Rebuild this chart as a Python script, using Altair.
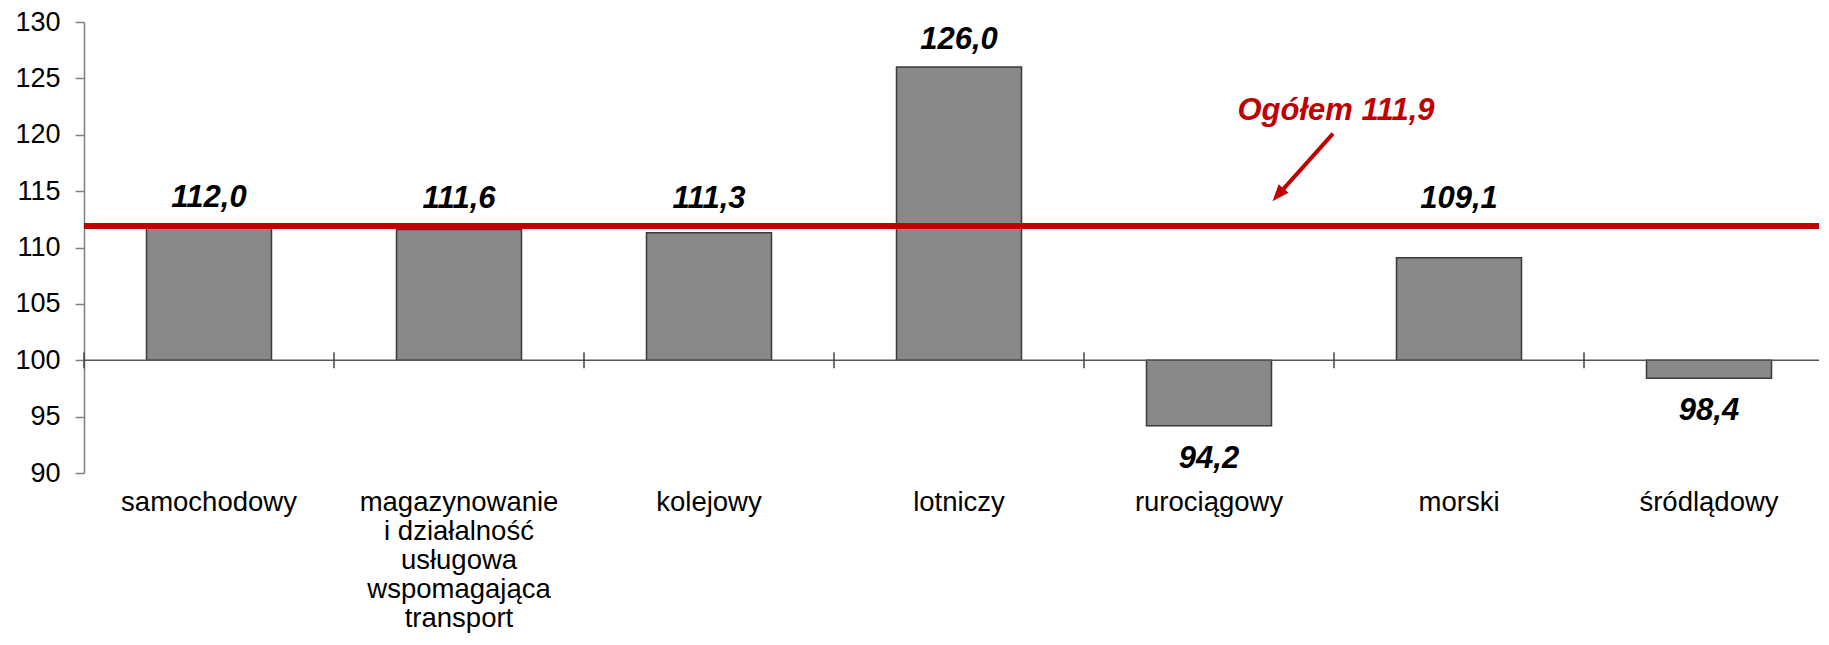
import altair as alt
import pandas as pd

# ---- data ----
categories = [
    "samochodowy",
    "magazynowanie\ni działalność\nusługowa\nwspomagająca\ntransport",
    "kolejowy",
    "lotniczy",
    "rurociągowy",
    "morski",
    "śródlądowy",
]
values = [112.0, 111.6, 111.3, 126.0, 94.2, 109.1, 98.4]
total = 111.9
total_label = "Ogółem 111,9"
base_value = 100
y_ticks = [90, 95, 100, 105, 110, 115, 120, 125, 130]

df = pd.DataFrame({"cat": categories, "value": values})
one = pd.DataFrame({"t": [total]})

FONT = "Liberation Sans"
W, H = 1750, 451
STEP = W / len(categories)
RED = "#C00000"

xscale = alt.Scale(domain=categories, paddingInner=0.5, paddingOuter=0.25)
yscale = alt.Scale(domain=[90, 130], nice=False, zero=False)

xaxis = alt.Axis(
    title=None, labelExpr="split(datum.label, '\\n')", domain=False, ticks=False,
    labelAngle=0, labelFontSize=27.5, labelPadding=15, labelLineHeight=29,
    labelColor="black", labelFont=FONT, labelLimit=500, labelBaseline="top",
)
yaxis = alt.Axis(
    title=None, values=y_ticks, grid=False, labelFontSize=27, labelFont=FONT,
    labelColor="black", labelPadding=15, tickSize=9, tickColor="#808080",
    domainColor="#808080", domainWidth=1.5, tickWidth=1.5,
)

base = alt.Chart(df)

bars = base.mark_bar(color="#898989", stroke="#3a3a3a", strokeWidth=1.5).encode(
    x=alt.X("cat:N", scale=xscale, axis=xaxis),
    y=alt.Y("value:Q", scale=yscale, axis=yaxis),
    y2=alt.Y2Datum(base_value),
)

base_line = alt.Chart(pd.DataFrame({"b": [base_value]})).mark_rule(
    color="#555555", strokeWidth=1.5
).encode(y=alt.Y("b:Q", scale=yscale, title=None))

# category separators on the 100 line (band start minus a quarter step)
cat_ticks = base.mark_rule(color="#444444", strokeWidth=1.5, xOffset=-STEP * 0.25).encode(
    x=alt.X("cat:N", bandPosition=0, scale=xscale, title=None),
    y=alt.YDatum(base_value - 0.7, title=None),
    y2=alt.Y2Datum(base_value + 0.7),
)

total_line = alt.Chart(one).mark_rule(color=RED, strokeWidth=6).encode(
    y=alt.Y("t:Q", scale=yscale, title=None)
)

label_style = dict(fontSize=31, fontWeight="bold", fontStyle="italic", font=FONT, color="black")

pos_labels = base.transform_filter(f"datum.value >= {base_value}").transform_calculate(
    anchor=f"max(datum.value, {total})",
    lab="replace(format(datum.value, '.1f'), '.', ',')",
).mark_text(baseline="alphabetic", dy=-18, **label_style).encode(
    x=alt.X("cat:N", scale=xscale, title=None),
    y=alt.Y("anchor:Q", scale=yscale, title=None),
    text="lab:N",
)

neg_labels = base.transform_filter(f"datum.value < {base_value}").transform_calculate(
    lab="replace(format(datum.value, '.1f'), '.', ',')",
).mark_text(baseline="top", dy=18, **label_style).encode(
    x=alt.X("cat:N", scale=xscale, title=None),
    y=alt.Y("value:Q", scale=yscale, title=None),
    text="lab:N",
)

annot_text = alt.Chart(one).mark_text(
    color=RED, fontSize=31, fontWeight="bold", fontStyle="italic", font=FONT,
    align="center", baseline="alphabetic", dx=-STEP * 0.25 + 2,
).encode(
    x=alt.XDatum("morski", bandPosition=0, title=None),
    y=alt.YDatum(121.3, title=None),
    text=alt.value(total_label),
)

arrow_line = alt.Chart(one).mark_rule(
    color=RED, strokeWidth=4, xOffset=-STEP * 0.25 - 1, x2Offset=8
).encode(
    x=alt.XDatum("morski", bandPosition=0, title=None),
    x2=alt.X2Datum("rurociągowy", bandPosition=1),
    y=alt.YDatum(120.1, title=None),
    y2=alt.Y2Datum(114.8),
)

arrow_head = alt.Chart(one).mark_point(
    shape="M0,0L-0.7,1.8L0.7,1.8Z", filled=True, color=RED, opacity=1,
    size=350, angle=221, strokeWidth=0, xOffset=1,
).encode(
    x=alt.XDatum("rurociągowy", bandPosition=1, title=None),
    y=alt.YDatum(114.1, title=None),
)

chart = alt.layer(
    bars, base_line, cat_ticks, total_line, pos_labels, neg_labels,
    annot_text, arrow_line, arrow_head,
).properties(
    width=W, height=H,
    autosize=alt.AutoSizeParams(type="none"),
    padding={"left": 76, "top": 14, "right": -15, "bottom": 162},
).configure_view(stroke=None)

chart.save("out.html", embed_options={"renderer": "svg", "actions": False})
